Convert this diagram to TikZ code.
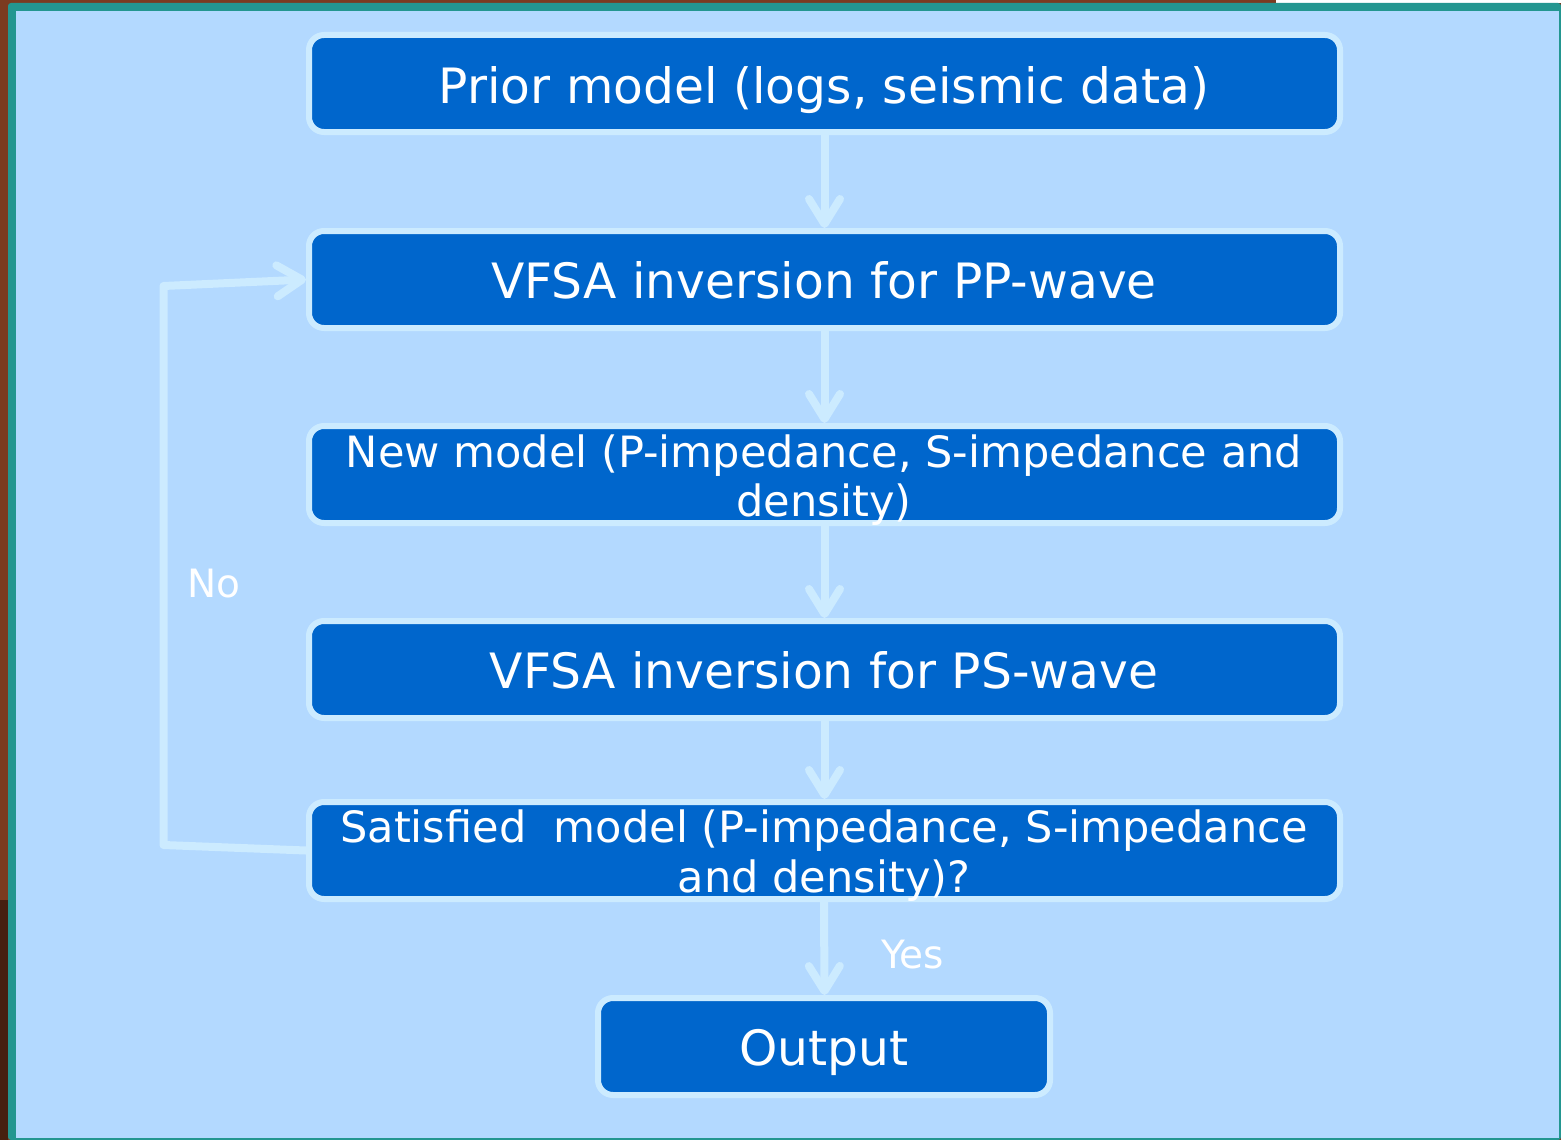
\documentclass[tikz,border=0pt]{standalone}
\usepackage{fontspec}
\setmainfont{DejaVu Sans}
\usetikzlibrary{arrows.meta}
\definecolor{panel}{RGB}{179,217,255}
\definecolor{boxfill}{RGB}{0,102,204}
\definecolor{rim}{RGB}{204,235,255}
\definecolor{frame}{RGB}{35,150,144}
\definecolor{wood}{RGB}{123,59,32}
\definecolor{darkwood}{RGB}{70,32,15}
\tikzset{
  stepbox/.style={draw=rim, line width=6pt, fill=boxfill, rounded corners=15pt,
    minimum width=1031pt, minimum height=97pt, inner sep=0pt, outer sep=3pt},
  lbl/.style={text=white, anchor=base, inner sep=0pt, font=\fontsize{48.7}{50}\selectfont},
  lblfit/.style={lbl, font=\fontsize{43.1}{46}\selectfont},
  small/.style={text=white, anchor=base west, inner sep=0pt, font=\fontsize{39}{41}\selectfont},
  flow/.style={draw=rim, line width=8pt, line cap=round, line join=round,
    -{Straight Barb[length=25pt,width=31pt,round]}},
}
\begin{document}
\begin{tikzpicture}[x=1pt,y=-1pt]
\useasboundingbox (0,0) rectangle (1561,1140);
% surroundings and frame
\fill[wood] (0,0) rectangle (1561,1140);
\fill[darkwood] (0,900) rectangle (8,1140);
\fill[white] (1276,0) rectangle (1561,3);
\fill[frame, rounded corners=3pt] (8,3) rectangle (1561,1140);
\fill[panel] (16,11) rectangle (1559,1138);
% process boxes
\node[stepbox] (b1) at (824.5,83.5) {};
\node[stepbox] (b2) at (824.5,279.5) {};
\node[stepbox] (b3) at (824.5,474.5) {};
\node[stepbox] (b4) at (824.5,669.5) {};
\node[stepbox] (b5) at (824.5,850.5) {};
\node[stepbox, minimum width=452pt] (b6) at (824,1046.5) {};
% box texts
\node[lbl] (t1) at (824,103) {Prior model (logs, seismic data)};
\node[lbl] (t2) at (824,298) {VFSA inversion for PP-wave};
\node[lblfit] (t3a) at (824,467) {New model (P-impedance, S-impedance and};
\node[lblfit] (t3b) at (824,516) {density)};
\node[lbl] (t4) at (824,688) {VFSA inversion for PS-wave};
\node[lblfit] (t5a) at (824,842) {Satisfied\ \ model (P-impedance, S-impedance};
\node[lblfit] (t5b) at (824,892) {and density)?};
\node[lbl] (t6) at (824,1065) {Output};
% downward flow
\draw[flow] (b1.south) -- (b2.north);
\draw[flow] (b2.south) -- (b3.north);
\draw[flow] (b3.south) -- (b4.north);
\draw[flow] (b4.south) -- (b5.north);
\draw[flow] ([xshift=-0.5pt]b5.south) -- ([xshift=0.5pt]b6.north);
% feedback loop
\coordinate (c1) at (163.5,845);
\coordinate (c2) at (163.5,286);
\draw[flow] (b5.west) -- (c1) -- (c2) -- (b2.west);
% branch labels
\node[small] (no) at (187,597) {No};
\node[small] (yes) at (881,968) {Yes};
\end{tikzpicture}
\end{document}
